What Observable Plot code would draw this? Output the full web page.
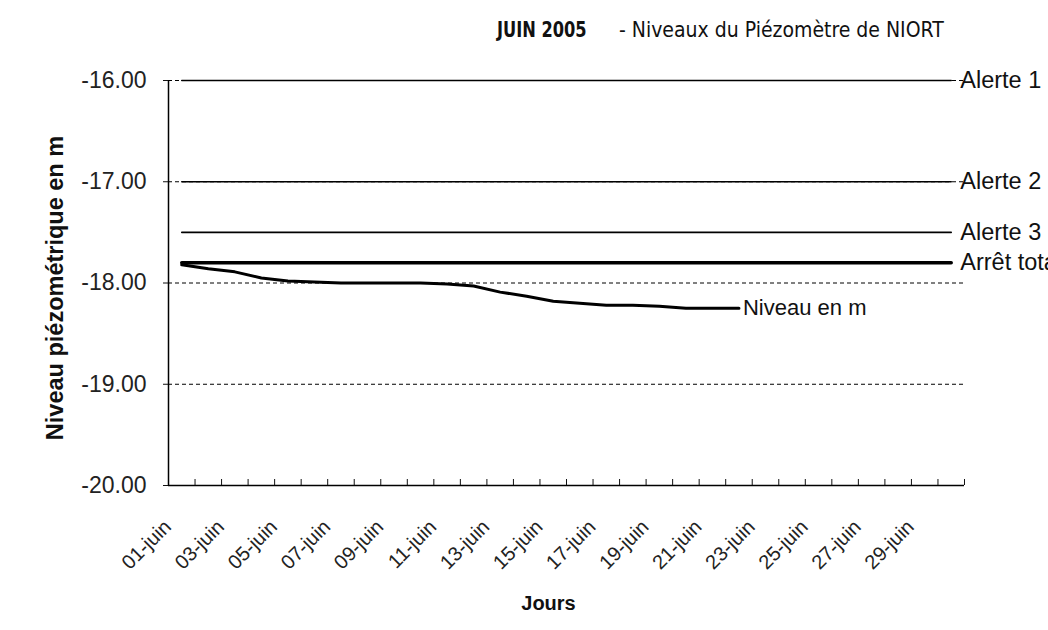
<!DOCTYPE html>
<html>
<head>
<meta charset="utf-8">
<script src="https://cdn.jsdelivr.net/npm/d3@7"></script>
<script src="https://cdn.jsdelivr.net/npm/@observablehq/plot@0.6"></script>
<style>
  html, body { margin: 0; padding: 0; background: #fff; }
  #wrap { position: relative; width: 1048px; height: 630px; overflow: hidden; }
  #title { position: absolute; left: 497px; top: 17px; white-space: nowrap; color: #111;
           font-family: "DejaVu Sans Condensed", sans-serif; font-stretch: condensed; }
  #title .b { display: inline-block; font-weight: bold; font-size: 22px; transform: scaleX(0.82); transform-origin: left center; width: 86px; }
  #title .n { display: inline-block; font-size: 21px; margin-left: 36px; }
  #chart { position: absolute; left: 0; top: 0; }
</style>
</head>
<body>
<div id="wrap">
  <div id="chart"></div>
  <div id="title"><span class="b">JUIN 2005</span><span class="n">- Niveaux du Piézomètre de NIORT</span></div>
</div>
<script>
// ---- data ----
const days = d3.range(1, 31);                       // 1..30 juin (categories)
const niveauDays = d3.range(1, 23);                 // measured days 1..22
const niveauValues = [-17.82, -17.86, -17.89, -17.95, -17.98, -17.99, -18.00, -18.00,
                      -18.00, -18.00, -18.01, -18.03, -18.09, -18.13, -18.18, -18.20,
                      -18.22, -18.22, -18.23, -18.25, -18.25, -18.25];
const alertNames = ["Alerte 1", "Alerte 2", "Alerte 3", "Arrêt total"];
const alertValues = [-16.0, -17.0, -17.5, -17.8];
const niveauName = "Niveau en m";
const yTicks = [-16, -17, -18, -19, -20];
const gridValues = [-16, -17, -18, -19];
const labelDays = d3.range(1, 31, 2);
const dayLabels = ["01-juin", "03-juin", "05-juin", "07-juin", "09-juin", "11-juin", "13-juin",
                   "15-juin", "17-juin", "19-juin", "21-juin", "23-juin", "25-juin", "27-juin", "29-juin"];
const xDomain = [0.5, 30.5];
const yDomain = [-20, -16];

// ---- tables ----
const niveauRows = niveauDays.map((d, i) => ({day: d, value: niveauValues[i], name: niveauName}));
const alertRows = alertNames.flatMap((n, j) => days.map(d => ({day: d, value: alertValues[j], name: n})));
const thinAlerts = alertRows.filter(r => r.name !== "Arrêt total");
const arretRows = alertRows.filter(r => r.name === "Arrêt total");
const alertEnds = alertNames.map((n, j) => ({day: days[days.length - 1], value: alertValues[j], name: n}));
const niveauEnd = [niveauRows[niveauRows.length - 1]];
const boundaries = days.map(d => d + 0.5);
const labelMap = new Map(labelDays.map((d, i) => [d, dayLabels[i]]));

const chart = Plot.plot({
  width: 1048,
  height: 630,
  marginLeft: 168,
  marginRight: 84,
  marginTop: 80,
  marginBottom: 145,
  style: {fontFamily: "'Liberation Sans', Arial, sans-serif", background: "#fff", color: "#111", overflow: "hidden"},
  x: {domain: xDomain, axis: null},
  y: {domain: yDomain, axis: null},
  marks: [
    Plot.ruleY(gridValues, {stroke: "#000", strokeWidth: 1, strokeDasharray: "4,3"}),
    Plot.line(thinAlerts, {x: "day", y: "value", z: "name", stroke: "#000", strokeWidth: 1.6}),
    Plot.line(arretRows, {x: "day", y: "value", stroke: "#000", strokeWidth: 3.5}),
    Plot.line(niveauRows, {x: "day", y: "value", stroke: "#000", strokeWidth: 3, curve: "linear"}),
    Plot.ruleX([xDomain[0]], {y1: yDomain[0], y2: yDomain[1], stroke: "#000", strokeWidth: 1.5}),
    Plot.ruleY([yDomain[0]], {x1: xDomain[0], x2: xDomain[1], stroke: "#000", strokeWidth: 1.5}),
    Plot.axisY(yTicks, {anchor: "left", tickSize: 5, tickPadding: 17, fontSize: 23, fill: "#222",
      tickFormat: d => d.toFixed(2), label: null}),
    Plot.axisX(boundaries, {anchor: "bottom", tickSize: -6, tickFormat: () => "", label: null}),
    Plot.axisX(labelDays, {anchor: "bottom", tickSize: 0, tickRotate: -45, fontSize: 20, fill: "#222",
      tickFormat: d => labelMap.get(d), tickPadding: 38, dx: -14, label: null}),
    Plot.text(alertEnds, {x: "day", y: "value", text: "name", textAnchor: "start", dx: 9, fontSize: 23.5, fill: "#111"}),
    Plot.text(niveauEnd, {x: "day", y: "value", text: "name", textAnchor: "start", dx: 4, fontSize: 22, fill: "#111"}),
    Plot.text(["Niveau piézométrique en m"], {frameAnchor: "left", textAnchor: "middle", dx: -113, dy: 5, rotate: -90, fontSize: 23.5,
      fontWeight: "bold", fill: "#111"}),
    Plot.text(["Jours"], {frameAnchor: "bottom", textAnchor: "middle", dx: -18, dy: 124, fontSize: 20, fontWeight: "bold", fill: "#111"})
  ]
});
document.getElementById("chart").appendChild(chart);
</script>
</body>
</html>
